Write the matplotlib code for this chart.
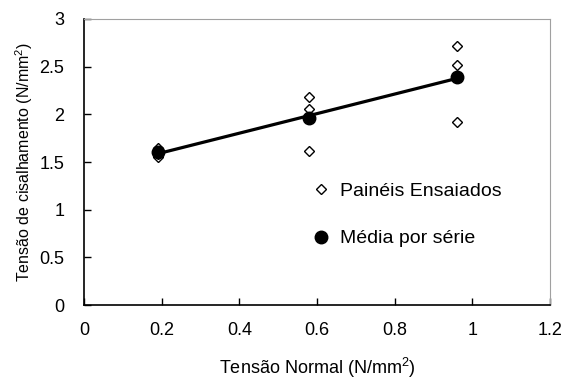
import numpy as np
import matplotlib
matplotlib.use("Agg")
import matplotlib.pyplot as plt

plt.rcParams['font.family'] = ['Liberation Sans', 'DejaVu Sans']
plt.rcParams['mathtext.fontset'] = 'custom'
plt.rcParams['mathtext.rm'] = 'Liberation Sans'

# Ensaios individuais (tensão normal, tensão de cisalhamento)
x_ensaios = [0.19, 0.19, 0.19, 0.19, 0.58, 0.58, 0.58, 0.96, 0.96, 0.96]
y_ensaios = [1.55, 1.58, 1.62, 1.65, 2.18, 2.06, 1.62, 2.72, 2.52, 1.92]

# Médias por série
x_media = [0.19, 0.58, 0.96]
y_media = [1.60, 1.96, 2.39]

fig = plt.figure(figsize=(5.67, 3.79), dpi=100)
ax = fig.add_axes([0.148, 0.195, 0.822, 0.755])

# reta de tendência pelas médias
coef = np.polyfit(x_media, y_media, 1)
xl = np.array([min(x_media), max(x_media)])
ax.plot(xl, np.polyval(coef, xl), color='black', lw=2.3, zorder=2)

ax.plot(x_ensaios, y_ensaios, linestyle='none', marker='D', markersize=4.8,
        markerfacecolor='white', markeredgecolor='black', markeredgewidth=1.0,
        label='Painéis Ensaiados', zorder=3)
ax.plot(x_media, y_media, linestyle='none', marker='o', markersize=9,
        color='black', label='Média por série', zorder=4)

ax.set_xlim(0, 1.2)
ax.set_ylim(0, 3)
ax.set_xticks(np.arange(0, 1.21, 0.2))
ax.set_xticklabels(['0', '0.2', '0.4', '0.6', '0.8', '1', '1.2'])
ax.set_yticks(np.arange(0, 3.01, 0.5))
ax.set_yticklabels(['0', '0.5', '1', '1.5', '2', '2.5', '3'])
ax.tick_params(direction='in', length=5, width=1, labelsize=13)
ax.tick_params(axis='x', pad=12)
ax.tick_params(axis='y', pad=14)

for s in ['top', 'right']:
    ax.spines[s].set_color('#a0a0a0')
for s in ['left', 'bottom']:
    ax.spines[s].set_linewidth(1.2)

ax.set_xlabel('Tensão Normal (N/mm$^{2}$)', fontsize=13, labelpad=12)
ax.set_ylabel('Tensão de cisalhamento (N/mm$^{2}$)', fontsize=11.5, labelpad=3)

ax.legend(loc='upper left', bbox_to_anchor=(0.4875, 0.43), frameon=False,
          fontsize=14, labelspacing=1.55, handletextpad=0.5, handlelength=1.0,
          borderpad=0, borderaxespad=0)

fig.savefig('out.png', dpi=100)
